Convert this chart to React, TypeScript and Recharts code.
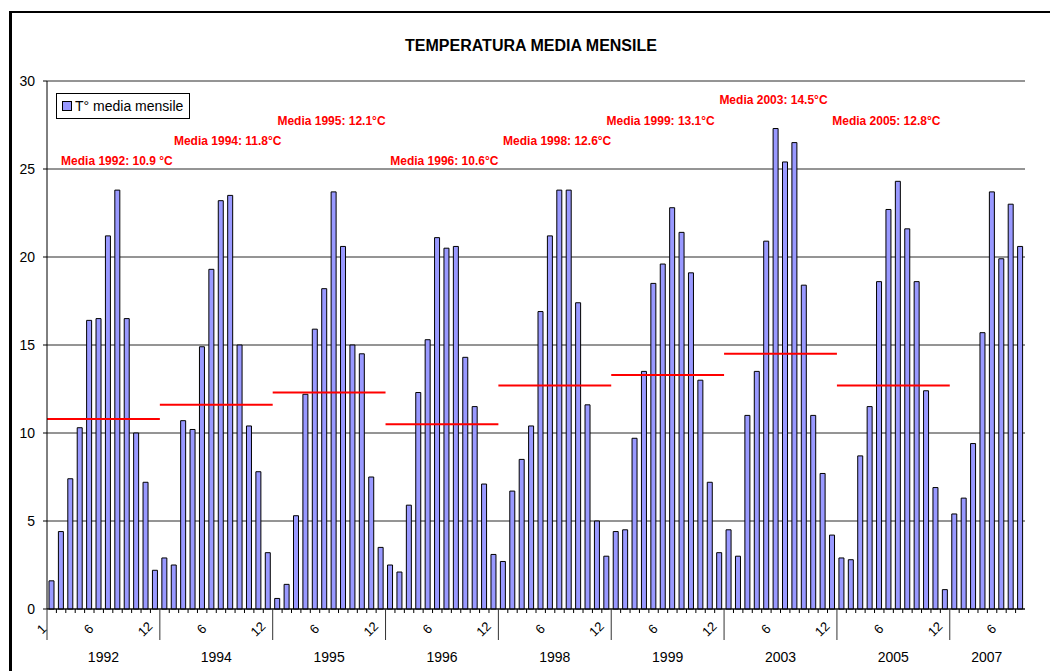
import React from "react";
import {
  BarChart,
  Bar,
  XAxis,
  YAxis,
  CartesianGrid,
  ReferenceLine,
  ReferenceDot,
} from "recharts";

const years = ["1992", "1994", "1995", "1996", "1998", "1999", "2003", "2005", "2007"];

const t1992 = [1.6, 4.4, 7.4, 10.3, 16.4, 16.5, 21.2, 23.8, 16.5, 10.0, 7.2, 2.2];
const t1994 = [2.9, 2.5, 10.7, 10.2, 14.9, 19.3, 23.2, 23.5, 15.0, 10.4, 7.8, 3.2];
const t1995 = [0.6, 1.4, 5.3, 12.2, 15.9, 18.2, 23.7, 20.6, 15.0, 14.5, 7.5, 3.5];
const t1996 = [2.5, 2.1, 5.9, 12.3, 15.3, 21.1, 20.5, 20.6, 14.3, 11.5, 7.1, 3.1];
const t1998 = [2.7, 6.7, 8.5, 10.4, 16.9, 21.2, 23.8, 23.8, 17.4, 11.6, 5.0, 3.0];
const t1999 = [4.4, 4.5, 9.7, 13.5, 18.5, 19.6, 22.8, 21.4, 19.1, 13.0, 7.2, 3.2];
const t2003 = [4.5, 3.0, 11.0, 13.5, 20.9, 27.3, 25.4, 26.5, 18.4, 11.0, 7.7, 4.2];
const t2005 = [2.9, 2.8, 8.7, 11.5, 18.6, 22.7, 24.3, 21.6, 18.6, 12.4, 6.9, 1.1];
const t2007 = [5.4, 6.3, 9.4, 15.7, 23.7, 19.9, 23.0, 20.6];

const monthly = [t1992, t1994, t1995, t1996, t1998, t1999, t2003, t2005, t2007];

// yearly mean, as drawn by the red lines, and the label text
const meanYears = ["1992", "1994", "1995", "1996", "1998", "1999", "2003", "2005"];
const meanLines = [10.8, 11.6, 12.3, 10.5, 12.7, 13.3, 14.5, 12.7];
const meanLabels = [
  "Media 1992: 10.9 °C",
  "Media 1994: 11.8°C",
  "Media 1995: 12.1°C",
  "Media 1996: 10.6°C",
  "Media 1998: 12.6°C",
  "Media 1999: 13.1°C",
  "Media 2003: 14.5°C",
  "Media 2005: 12.8°C",
];

const yTicks = [0, 5, 10, 15, 20, 25, 30];

// where each label sits: category it starts on, and height in °C
const labelAnchor = ["1992-2", "1994-2", "1995-1", "1996-1", "1998-1", "1998-12", "1999-12", "2003-12"];
const labelLevel = [25.45, 26.6, 27.7, 25.45, 26.6, 27.7, 28.9, 27.7];

const data = years.flatMap((y, i) =>
  monthly[i].map((v, m) => ({ key: `${y}-${m + 1}`, year: y, month: m + 1, temp: v }))
);

const FONT = "'Liberation Sans', Arial, sans-serif";

const MonthTick = (props: any) => {
  const { x, y, payload, index } = props;
  const row = data[index];
  const half = payload?.offset ?? 4.7;
  const left = x - half;
  let label = "";
  if (index === 0) label = "1";
  else if (row.month === 6 || row.month === 12) label = String(row.month);
  const yearStart = row.month === 1;
  const yearCenter = left + 12 * half;
  return (
    <g>
      <line
        x1={left}
        y1={y}
        x2={left}
        y2={y + (yearStart ? 31 : 4)}
        stroke={yearStart ? "#333" : "#000"}
        strokeWidth={1}
      />
      {label && (
        <text
          x={x - 10}
          y={y + 20}
          textAnchor="middle"
          dominantBaseline="central"
          transform={`rotate(-45 ${x - 10} ${y + 20})`}
          fontFamily={FONT}
          fontSize={13}
          fill="#000"
        >
          {label}
        </text>
      )}
      {yearStart && (
        <text
          x={row.year === "2007" ? left + 37 : yearCenter}
          y={y + 48}
          textAnchor="middle"
          dominantBaseline="central"
          fontFamily={FONT}
          fontSize={14}
          fill="#000"
        >
          {row.year}
        </text>
      )}
    </g>
  );
};

export default function App() {
  return (
    <div
      style={{
        position: "fixed",
        left: 0,
        top: 0,
        width: 1050,
        height: 671,
        overflow: "hidden",
        background: "#fff",
      }}
    >
      <div
        style={{
          position: "absolute",
          left: 9,
          top: 11,
          width: 1200,
          height: 800,
          borderTop: "2px solid #000",
          borderLeft: "3px solid #000",
        }}
      />
      <div
        style={{
          position: "absolute",
          left: 331,
          top: 37,
          width: 400,
          textAlign: "center",
          fontFamily: FONT,
          fontWeight: "bold",
          fontSize: 16,
          color: "#000",
        }}
      >
        TEMPERATURA MEDIA MENSILE
      </div>
      <div style={{ position: "absolute", left: 0, top: 0 }}>
        <BarChart
          width={1050}
          height={671}
          data={data}
          margin={{ top: 81, right: 25, left: 0, bottom: 0 }}
          barSize={5}
        >
          <CartesianGrid vertical={false} stroke="#2a2a2a" />
          <XAxis
            dataKey="key"
            interval={0}
            height={62}
            tickSize={0}
            tickMargin={0}
            tickLine={false}
            axisLine={{ stroke: "#000" }}
            tick={<MonthTick />}
          />
          <YAxis
            domain={[0, 30]}
            ticks={yTicks}
            width={47}
            tickSize={4}
            tickMargin={8}
            axisLine={{ stroke: "#000" }}
            tickLine={{ stroke: "#000" }}
            tick={{ fill: "#000", fontSize: 14, fontFamily: FONT }}
          />
          <YAxis
            yAxisId="frame"
            orientation="right"
            width={0}
            tick={false}
            tickLine={false}
            axisLine={{ stroke: "#888" }}
          />
          <Bar
            dataKey="temp"
            name="T° media mensile"
            fill="#9999ff"
            stroke="#000"
            strokeWidth={1}
            isAnimationActive={false}
          />
          {meanYears.map((y, i) => (
            <ReferenceLine
              key={y}
              segment={[
                { x: `${y}-1`, y: meanLines[i] },
                { x: `${years[years.indexOf(y) + 1]}-1`, y: meanLines[i] },
              ]}
              position="start"
              stroke="#ff0000"
              strokeWidth={2}
            />
          ))}
          {meanLabels.map((txt, i) => (
            <ReferenceDot
              key={txt}
              x={labelAnchor[i]}
              y={labelLevel[i]}
              r={0}
              shape={(p: any) => (
                <text
                  x={p.cx}
                  y={p.cy}
                  dominantBaseline="central"
                  fontFamily={FONT}
                  fontWeight="bold"
                  fontSize={12}
                  fill="#ff0000"
                >
                  {txt}
                </text>
              )}
            />
          ))}
        </BarChart>
      </div>
      <div
        style={{
          position: "absolute",
          left: 56,
          top: 93,
          height: 24,
          border: "1px solid #000",
          background: "#fff",
          padding: "0 6px 0 5px",
          display: "flex",
          alignItems: "center",
          fontFamily: FONT,
          fontSize: 14,
          color: "#000",
        }}
      >
        <span
          style={{
            display: "inline-block",
            width: 8,
            height: 8,
            background: "#9999ff",
            border: "1px solid #000",
            marginRight: 3,
          }}
        />
        T° media mensile
      </div>
    </div>
  );
}
